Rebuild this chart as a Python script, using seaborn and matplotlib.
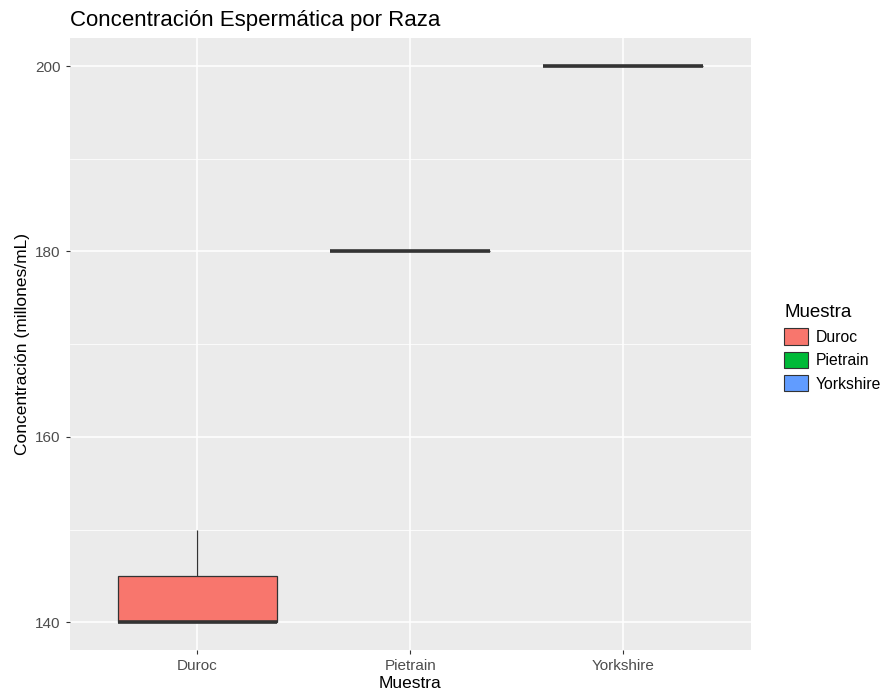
import pandas as pd
import matplotlib.pyplot as plt
import seaborn as sns
from matplotlib.patches import Patch

# Datos
razas = ["Duroc", "Pietrain", "Yorkshire"]
duroc = [140, 140, 150]
pietrain = [180, 180]
yorkshire = [200, 200]
colores = ["#F8766D", "#00BA38", "#619CFF"]

df = pd.DataFrame({
    "Muestra": ["Duroc"] * len(duroc) + ["Pietrain"] * len(pietrain) + ["Yorkshire"] * len(yorkshire),
    "Concentracion": duroc + pietrain + yorkshire,
})

plt.rcParams["font.family"] = ["Liberation Sans", "DejaVu Sans"]

fig = plt.figure(figsize=(8.83, 6.96), dpi=100)
ax = fig.add_axes([0.079, 0.066, 0.771, 0.879])
ax.set_facecolor("#EBEBEB")

sns.boxplot(
    data=df, x="Muestra", y="Concentracion", hue="Muestra",
    order=razas, hue_order=razas, palette=colores, saturation=1,
    width=0.75, linecolor="#333333", linewidth=0.9,
    showcaps=False, medianprops=dict(linewidth=2.6, color="#333333"),
    legend=False, ax=ax, zorder=3,
)

ax.set_xlim(-0.6, 2.6)
ax.set_ylim(137, 203)
ax.set_yticks([140, 160, 180, 200])
ax.set_yticks([150, 170, 190], minor=True)
ax.grid(which="major", color="white", linewidth=1.1)
ax.grid(which="minor", axis="y", color="white", linewidth=0.55)
ax.set_axisbelow(True)
for s in ax.spines.values():
    s.set_visible(False)
ax.tick_params(axis="both", which="major", length=3, color="#333333",
               labelcolor="#4D4D4D", labelsize=11)
ax.tick_params(axis="y", which="minor", length=0)

ax.set_title("Concentración Espermática por Raza", loc="left", fontsize=16, pad=9)
ax.set_xlabel("Muestra", fontsize=12.5, labelpad=2)
ax.set_ylabel("Concentración (millones/mL)", fontsize=12.5, labelpad=4)

handles = [Patch(facecolor=c, edgecolor="#333333", linewidth=0.8, label=r) for r, c in zip(razas, colores)]
leg = fig.legend(handles=handles, title="Muestra", loc="center left",
                 bbox_to_anchor=(0.872, 0.5), frameon=False, fontsize=11.3,
                 title_fontsize=13.5, handlelength=1.5, handleheight=1.2,
                 labelspacing=0.45, handletextpad=0.5)
leg._legend_box.align = "left"

plt.savefig("out.png", dpi=100)
plt.close()
